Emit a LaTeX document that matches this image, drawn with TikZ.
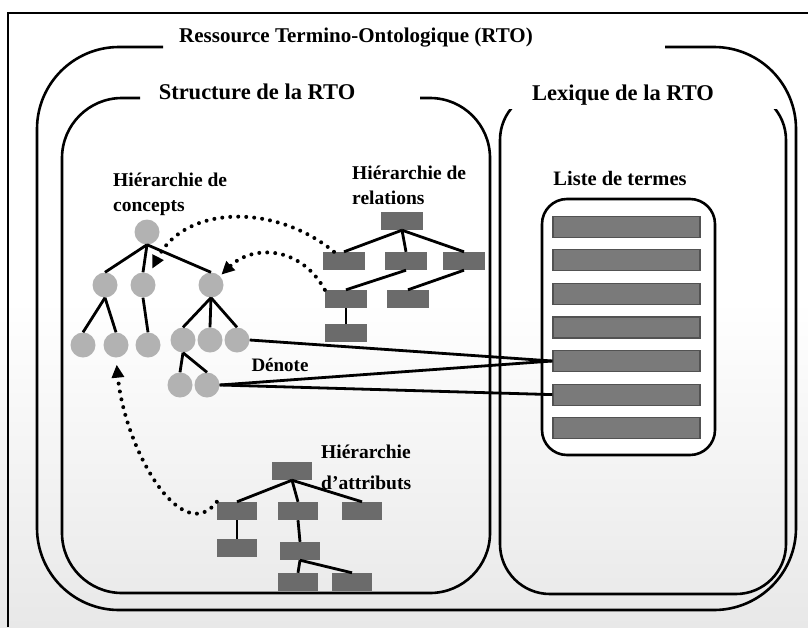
\documentclass[tikz,border=0pt]{standalone}
\usepackage{fontspec}
\setmainfont{Liberation Serif}
\usetikzlibrary{arrows.meta}

\begin{document}
\begin{tikzpicture}[x=1pt, y=-1pt,
    boxline/.style={line width=2.6pt},
    concept/.style={circle, fill=black!30, minimum size=25pt, inner sep=0pt},
    relation/.style={rectangle, fill=black!58, minimum width=42pt, minimum height=18pt, inner sep=0pt},
    attribut/.style={rectangle, fill=black!58, minimum width=40pt, minimum height=18pt, inner sep=0pt},
    terme/.style={rectangle, fill=black!52, draw=black!68, line width=1.2pt, minimum width=147pt, minimum height=21pt, inner sep=0pt},
    lien/.style={line width=2.8pt},
    renvoi/.style={line width=4pt, line cap=round, dash pattern=on 0pt off 8pt, -{Triangle[length=13pt,width=12pt]}},
    titre/.style={font=\fontsize{21}{25}\selectfont\bfseries},
    soustitre/.style={font=\fontsize{22.5}{27}\selectfont\bfseries},
    etiquette/.style={font=\fontsize{19.5}{25}\selectfont\bfseries, align=left, inner sep=0pt},
]
\useasboundingbox (0,0) rectangle (808,627);
% papier un peu gris en bas
\shade[top color=white, bottom color=black!9] (0,300) rectangle (808,627);

% cadre de la page
\draw[line width=1.6pt] (8,627) -- (8,13) -- (808,13);

% Ressource Termino-Ontologique
\node[titre] (rto) at (356,38) {Ressource Termino-Ontologique (RTO)};
\draw[boxline, rounded corners=82] (163,47) -- (37,47) -- (37,610) -- (796,610) -- (796,47) -- (665,47);

% Structure de la RTO
\node[soustitre] (structure) at (257,92) {Structure de la RTO};
\draw[boxline, rounded corners=60] (140,98) -- (62,98) -- (62,593) -- (490,593) -- (490,98) -- (420,98);

% Lexique de la RTO
\node[soustitre] (lexique) at (623,95) {Lexique de la RTO};
\begin{scope}
    \clip (480,109) rectangle (800,620);
    \draw[boxline, rounded corners=50] (500,90) rectangle (786,594);
\end{scope}

% Liste de termes
\node[font=\fontsize{20.5}{25}\selectfont\bfseries] (lblliste) at (620,178) {Liste de termes};
\node[draw, boxline, fill=white, rounded corners=25, minimum width=173pt, minimum height=256pt] (liste) at (628.5,327) {};
\foreach \i in {1,...,7}
    \node[terme] (t\i) at (626.5, 193+33.6*\i) {};

% Hierarchie de concepts
\node[etiquette, anchor=north west] (lblconcepts) at (113,173) {Hiérarchie de\\concepts};
\node[concept] (c1) at (147,232) {};
\node[concept] (c21) at (105,285) {};
\node[concept] (c22) at (143,285) {};
\node[concept] (c23) at (211,285) {};
\node[concept] (c31) at (83,345) {};
\node[concept] (c32) at (116,345) {};
\node[concept] (c33) at (148,345) {};
\node[concept] (c34) at (183,340) {};
\node[concept] (c35) at (210,340) {};
\node[concept] (c36) at (237,340) {};
\node[concept] (c41) at (180,385) {};
\node[concept] (c42) at (207,385) {};
\foreach \a/\b in {c1/c21, c1/c22, c1/c23, c21/c31, c21/c32, c22/c33,
                   c23/c34, c23/c35, c23/c36, c34/c41, c34/c42}
    \draw[lien] (\a.south) -- (\b.north);

% Hierarchie de relations
\node[etiquette, anchor=north west] (lblrelations) at (352,166) {Hiérarchie de\\relations};
\node[relation] (r1) at (402,221) {};
\node[relation] (r21) at (344,261) {};
\node[relation] (r22) at (406,261) {};
\node[relation] (r23) at (464,261) {};
\node[relation] (r31) at (346,299) {};
\node[relation] (r32) at (408,299) {};
\node[relation] (r41) at (346,333) {};
\foreach \a/\b in {r1/r21, r1/r22, r1/r23, r22/r31, r23/r32, r31/r41}
    \draw[lien] (\a.south) -- (\b.north);

% Hierarchie d'attributs
\node[etiquette, anchor=north west] (lblattributs) at (321,445) {Hiérarchie\\[6pt]d’attributs};
\node[attribut] (a1) at (292,471) {};
\node[attribut] (a21) at (237,511) {};
\node[attribut] (a22) at (298,511) {};
\node[attribut] (a23) at (362,511) {};
\node[attribut] (a31) at (237,548) {};
\node[attribut] (a32) at (300,551) {};
\node[attribut] (a41) at (298,582) {};
\node[attribut] (a42) at (352,582) {};
\foreach \a/\b in {a1/a21, a1/a22, a1/a23, a21/a31, a22/a32, a32/a41, a32/a42}
    \draw[lien] (\a.south) -- (\b.north);

% renvois en pointilles
\draw[renvoi, shorten >=6pt] ([xshift=-10pt]r21.north) .. controls (275,203) and (185,205) .. (c22.60);
\draw[renvoi, shorten >=2pt] (r31.north west) .. controls (300,245) and (252,245) .. (c23.45);
\draw[renvoi, shorten >=7pt] (a21.north west) .. controls (182,548) and (125,450) .. (c32.south);

% Denote
\node[font=\fontsize{19}{23}\selectfont\bfseries] (denote) at (280,365) {Dénote};
\draw[lien] (c36.east) -- (t5.west);
\draw[lien] (c42.east) -- (t5.west);
\draw[lien] (c42.east) -- (t6.west);
\end{tikzpicture}
\end{document}
